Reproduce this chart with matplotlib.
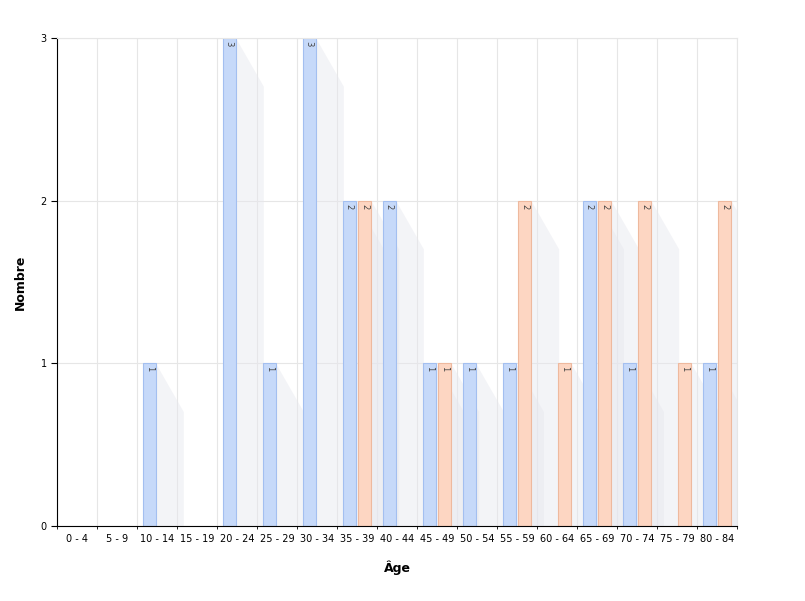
import matplotlib.pyplot as plt
import numpy as np

categories = ['0 - 4', '5 - 9', '10 - 14', '15 - 19', '20 - 24', '25 - 29', '30 - 34', '35 - 39',
              '40 - 44', '45 - 49', '50 - 54', '55 - 59', '60 - 64', '65 - 69', '70 - 74', '75 - 79', '80 - 84']
hommes = [0, 0, 1, 0, 3, 1, 3, 2, 2, 1, 1, 1, 0, 2, 1, 0, 1]
femmes = [0, 0, 0, 0, 0, 0, 0, 2, 0, 1, 0, 2, 1, 2, 2, 1, 2]

fig, ax = plt.subplots(figsize=(8.05, 6.01), dpi=100)
fig.subplots_adjust(left=0.071, right=0.916, top=0.937, bottom=0.125)

x = np.arange(len(categories))
w = 0.33
for vals, off, fc, ec in [(hommes, -0.2, '#c6d9f9', '#a3bff0'), (femmes, 0.18, '#fdd6c2', '#eeb99e')]:
    for xi, v in zip(x, vals):
        if v > 0:
            # soft diagonal shadow
            ax.fill([xi + off + w / 2, xi + off + w / 2 + 0.7, xi + off + w / 2 + 0.7, xi + off + w / 2],
                    [v, v - 0.3, -0.1, 0], color='#e6e7ee', alpha=0.45, lw=0, zorder=1)
            ax.bar(xi + off, v, w, color=fc, edgecolor=ec, linewidth=0.8, zorder=2)
            ax.text(xi + off, v - 0.02, str(v), rotation=-90, ha='center', va='top',
                    fontsize=6, color='#444444', zorder=3)

ax.set_xlim(-0.5, len(categories) - 0.5)
ax.set_ylim(0, 3)
ax.set_yticks([0, 1, 2, 3])
ax.set_xticks(x)
ax.set_xticklabels(categories, fontsize=7)
ax.tick_params(axis='y', labelsize=7, length=4)
ax.tick_params(axis='x', length=0, pad=6)
ax.set_xticks(np.arange(-0.5, len(categories)), minor=True)
ax.grid(True, which='minor', axis='x', color='#e6e6e6', lw=0.8)
ax.grid(True, which='major', axis='y', color='#e6e6e6', lw=0.8)
ax.set_axisbelow(True)
for s in ['top', 'right']:
    ax.spines[s].set_color('#e6e6e6')
ax.spines['left'].set_color('black')
ax.spines['bottom'].set_color('black')
ax.set_xlabel('Âge', fontsize=9, fontweight='bold', labelpad=12)
ax.set_ylabel('Nombre', fontsize=9, fontweight='bold', labelpad=10)

plt.savefig('out.png')
